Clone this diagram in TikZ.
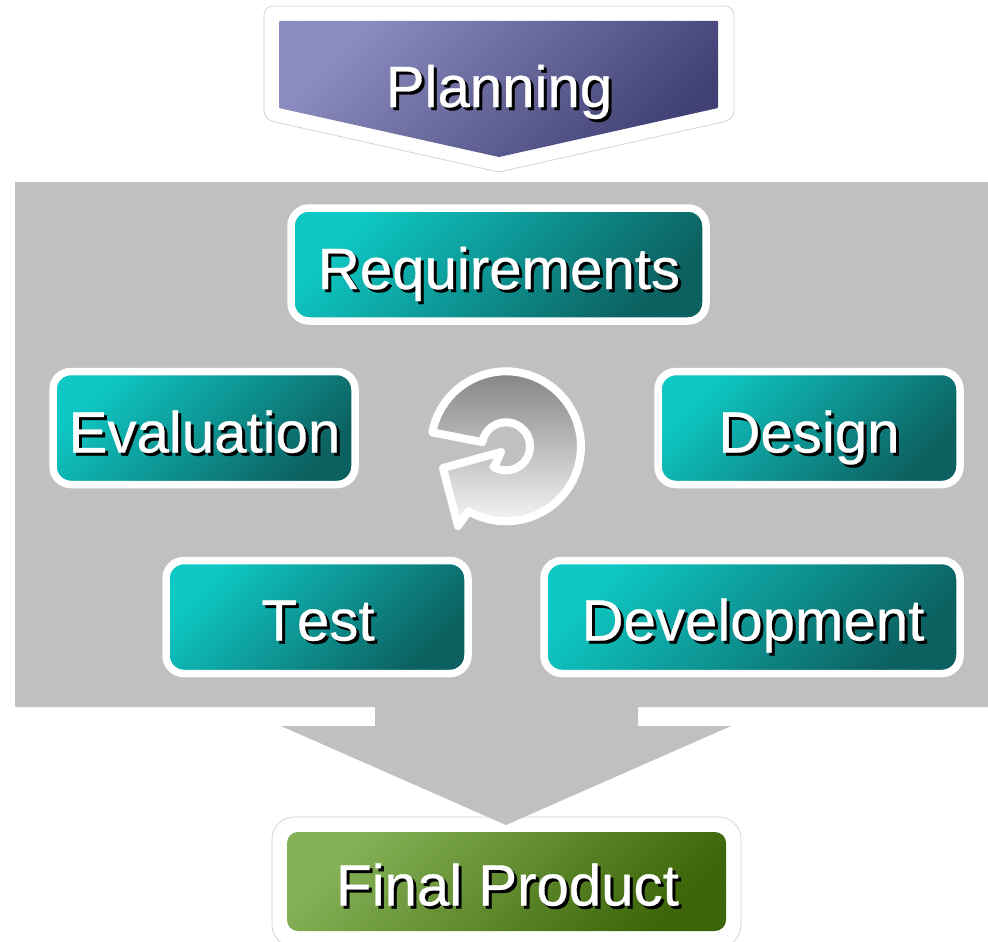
\documentclass[tikz,border=0pt]{standalone}
\usepackage{fontspec}
\setmainfont{Liberation Sans}
\newfontfamily\heavyish[FakeBold=0.5,Kerning=Off]{Liberation Sans}
\definecolor{panelgray}{HTML}{C0C0C0}
\definecolor{tealA}{HTML}{05C6C2}
\definecolor{tealB}{HTML}{045A5A}
\definecolor{blueA}{HTML}{8888BE}
\definecolor{blueB}{HTML}{3A3A70}
\definecolor{greenA}{HTML}{80AE50}
\definecolor{greenB}{HTML}{366000}
\definecolor{halo}{HTML}{D4D4D4}
\newcommand{\shtxt}[1]{\rlap{\kern3pt\lower3pt\hbox{\color{black}#1}}\textcolor{white}{#1}}
\newcommand{\hatchfill}{%
  \foreach \i in {-160,-156.5,...,640}{%
    \draw[white,opacity=.09,line width=1pt]
      ([xshift=\i pt]path picture bounding box.south west) -- ++(170,-170);}}
\tikzset{
  x=1pt,y=-1pt,
  hatched/.style={path picture={\hatchfill}},
  phase/.style={rectangle,draw=white,line width=7.5pt,rounded corners=18pt,
    top color=tealA,bottom color=tealB,shading angle=45,hatched,
    inner sep=0pt,outer sep=0pt},
  label text/.style={font=\heavyish\fontsize{58.2}{58}\selectfont,anchor=base,inner sep=0pt},
  halo line/.style={draw=halo,line width=.8pt,fill=white},
}
\begin{document}
\begin{tikzpicture}
\useasboundingbox (0,0) rectangle (988,942);
\clip (0,0) rectangle (988,942);
\fill[white] (0,0) rectangle (988,942);
% halo behind the final product
\path[halo line,rounded corners=22pt] (272,817) rectangle (741,947);
% grey panel with downward arrow
\fill[panelgray] (15,182) -- (988,182) -- (988,707) -- (638,707) -- (638,726) -- (731,726)
  -- (506,825) -- (281,726) -- (375,726) -- (375,707) -- (15,707) -- cycle;
% Planning
\path[halo line,rounded corners=9pt] (264,6) -- (734,6) -- (734,119.5)
  [rounded corners=2pt] -- (499,172) [rounded corners=9pt] -- (264,119.5) -- cycle;
\path[top color=blueA,bottom color=blueB,shading angle=45,hatched,rounded corners=1pt]
  (279,21) -- (718,21) -- (718,108) -- (499,157) -- (279,108) -- cycle;
\node[label text] (planning) at (499,107) {\shtxt{Planning}};
% phases
\node[phase,minimum width=415pt,minimum height=113pt] (reqbox) at (498.5,264.5) {};
\node[label text] (req) at (499,289) {\shtxt{Requirements}};
\node[phase,minimum width=302pt,minimum height=113pt] (evalbox) at (204,428) {};
\node[label text] (eval) at (204.5,452.5) {\shtxt{Evaluation}};
\node[phase,minimum width=302pt,minimum height=113pt] (desbox) at (809,428) {};
\node[label text] (des) at (809,452.5) {\shtxt{Design}};
\node[phase,minimum width=302pt,minimum height=113pt] (testbox) at (317,617) {};
\node[label text] (test) at (318,640.5) {\shtxt{Test}};
\node[phase,minimum width=416pt,minimum height=113pt] (devbox) at (752,617) {};
\node[label text] (dev) at (753,640.5) {\shtxt{Development}};
% cycle arrow
\path[draw=white,line width=8pt,line join=round,top color=black!48,bottom color=black!3]
  plot[domain=190.7:480,samples=70] ({506+75*cos(\x)},{446.3+75*sin(\x)})
  -- (458,526) -- (443,468) -- (501,452) -- (495,465)
  -- plot[domain=122:-170,samples=50] ({506+24*cos(\x)},{446.3+24*sin(\x)})
  -- cycle;
% Final product
\node[rectangle,rounded corners=11pt,top color=greenA,bottom color=greenB,shading angle=45,
  hatched,inner sep=0pt,outer sep=0pt,minimum width=439pt,minimum height=99pt] (finalbox) at (506.5,881.5) {};
\node[label text] (final) at (507.5,905.5) {\shtxt{Final Product}};
\end{tikzpicture}
\end{document}
